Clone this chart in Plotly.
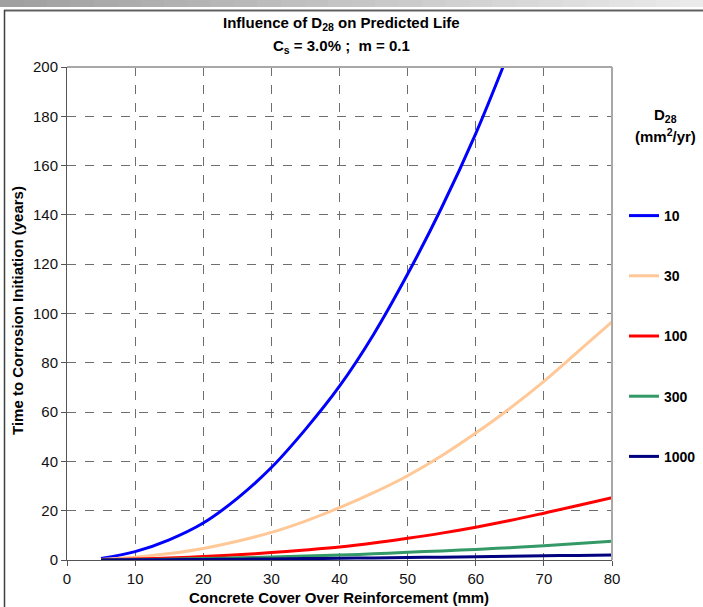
import plotly.graph_objects as go

# ---- data ----
cover_mm = [5, 10, 15, 20, 25, 30, 35, 40, 45, 50, 55, 60, 65, 70, 75, 80]
cover_mm_d10 = [5, 10, 15, 20, 25, 30, 35, 40, 45, 50, 55, 60, 64]
life_d10 = [0.6, 3.4, 8.2, 15.0, 25.0, 37.5, 53.0, 70.5, 91.5, 116.0, 143.0, 173.0, 200.0]
life_d30 = [0.2, 1.1, 2.6, 4.7, 7.6, 11.2, 15.8, 21.2, 27.3, 34.2, 42.3, 51.5, 61.5, 72.5, 84.5, 96.6]
life_d100 = [0.1, 0.4, 0.8, 1.4, 2.1, 3.0, 4.1, 5.3, 6.9, 8.8, 10.9, 13.3, 16.0, 19.0, 22.1, 25.3]
life_d300 = [0.05, 0.15, 0.35, 0.6, 0.9, 1.2, 1.6, 2.0, 2.5, 3.1, 3.7, 4.3, 5.0, 5.8, 6.7, 7.6]
life_d1000 = [0.02, 0.08, 0.15, 0.25, 0.35, 0.45, 0.57, 0.7, 0.85, 1.0, 1.15, 1.3, 1.5, 1.7, 1.85, 2.0]

series_names = ["10", "30", "100", "300", "1000"]
series_colors = ["#0000FF", "#FFC896", "#FF0000", "#339966", "#000080"]
series_x = [cover_mm_d10, cover_mm, cover_mm, cover_mm, cover_mm]
series_y = [life_d10, life_d30, life_d100, life_d300, life_d1000]

x_ticks = [0, 10, 20, 30, 40, 50, 60, 70, 80]
y_ticks = [0, 20, 40, 60, 80, 100, 120, 140, 160, 180, 200]

FONT = "Arial, Liberation Sans, sans-serif"
W, H = 703, 607
L, R, T, B = 67, 612, 67, 560
FS = 15


def px2x(px):
    return (px - L) / (R - L)


def py2y(py):
    return (B - py) / (B - T)


fig = go.Figure()
for name, col, xs, ys in zip(series_names, series_colors, series_x, series_y):
    fig.add_trace(go.Scatter(
        x=xs, y=ys, mode="lines", name=name,
        line=dict(color=col, width=3, shape="spline", smoothing=1.0),
        legendgroup=name,
    ))

shapes = []
# top gradient strip of the screenshot frame
n = 30
for k in range(n):
    g = int(160 + (235 - 160) * k / (n - 1))
    shapes.append(dict(type="rect", xref="paper", yref="paper",
                       x0=px2x(W * k / n), x1=px2x(W * (k + 1) / n + 1),
                       y0=py2y(7), y1=py2y(0),
                       fillcolor=f"rgb({g},{g},{g})", line=dict(width=0), layer="above"))
# frame lines
shapes.append(dict(type="line", xref="paper", yref="paper", x0=px2x(4), x1=px2x(W),
                   y0=py2y(10.5), y1=py2y(10.5), line=dict(color="#606060", width=2)))
shapes.append(dict(type="line", xref="paper", yref="paper", x0=px2x(4.5), x1=px2x(4.5),
                   y0=py2y(10), y1=py2y(H), line=dict(color="#404040", width=1.5)))
# plot-area top and right borders (light gray)
shapes.append(dict(type="line", xref="paper", yref="paper", x0=0, x1=1, y0=1, y1=1,
                   line=dict(color="#A8A8A8", width=2), layer="above"))
shapes.append(dict(type="line", xref="paper", yref="paper", x0=1, x1=1, y0=0, y1=1,
                   line=dict(color="#A8A8A8", width=2), layer="above"))


def ann(text, px, py, angle=0):
    return dict(text=text, x=px2x(px), y=py2y(py), xref="paper", yref="paper",
                showarrow=False, xanchor="center", yanchor="middle", textangle=angle,
                font=dict(family=FONT, size=FS, color="#000", weight="bold"))


annotations = [
    ann("Influence of D<sub>28</sub> on Predicted Life", 341, 24),
    ann("C<sub>s</sub> = 3.0% ;&nbsp; m = 0.1", 341, 47),
    ann("Time to Corrosion Initiation (years)", 17, 311, -90),
    ann("Concrete Cover Over Reinforcement (mm)", 339, 597),
    ann("D<sub>28</sub>", 666, 116),
    ann("(mm<sup>2</sup>/yr)", 666, 135),
]

axis_common = dict(
    showline=True, linecolor="#555555", linewidth=1,
    ticks="outside", ticklen=5, tickcolor="#555555",
    tickfont=dict(family=FONT, size=FS, color="#111"),
    showgrid=True, gridcolor="#6E6E6E", gridwidth=1, griddash="dash",
    zeroline=False, fixedrange=True,
)

fig.update_layout(
    width=W, height=H,
    margin=dict(l=L, r=W - R, t=T, b=H - B, autoexpand=False),
    paper_bgcolor="white", plot_bgcolor="white",
    font=dict(family=FONT, color="#000"),
    xaxis=dict(range=[0, 80], tickvals=x_ticks, **axis_common),
    yaxis=dict(range=[0, 200], tickvals=y_ticks, **axis_common),
    legend=dict(x=px2x(624), y=py2y(200), xanchor="left", yanchor="top",
                font=dict(family=FONT, size=14, color="#000", weight="bold"),
                tracegroupgap=39, bgcolor="rgba(0,0,0,0)", borderwidth=0,
                itemwidth=30, traceorder="grouped"),
    shapes=shapes,
    annotations=annotations,
    showlegend=True,
)

fig.write_html("out.html", config={"displayModeBar": False},
               post_script="document.body.style.margin='0';document.body.style.padding='0';")
